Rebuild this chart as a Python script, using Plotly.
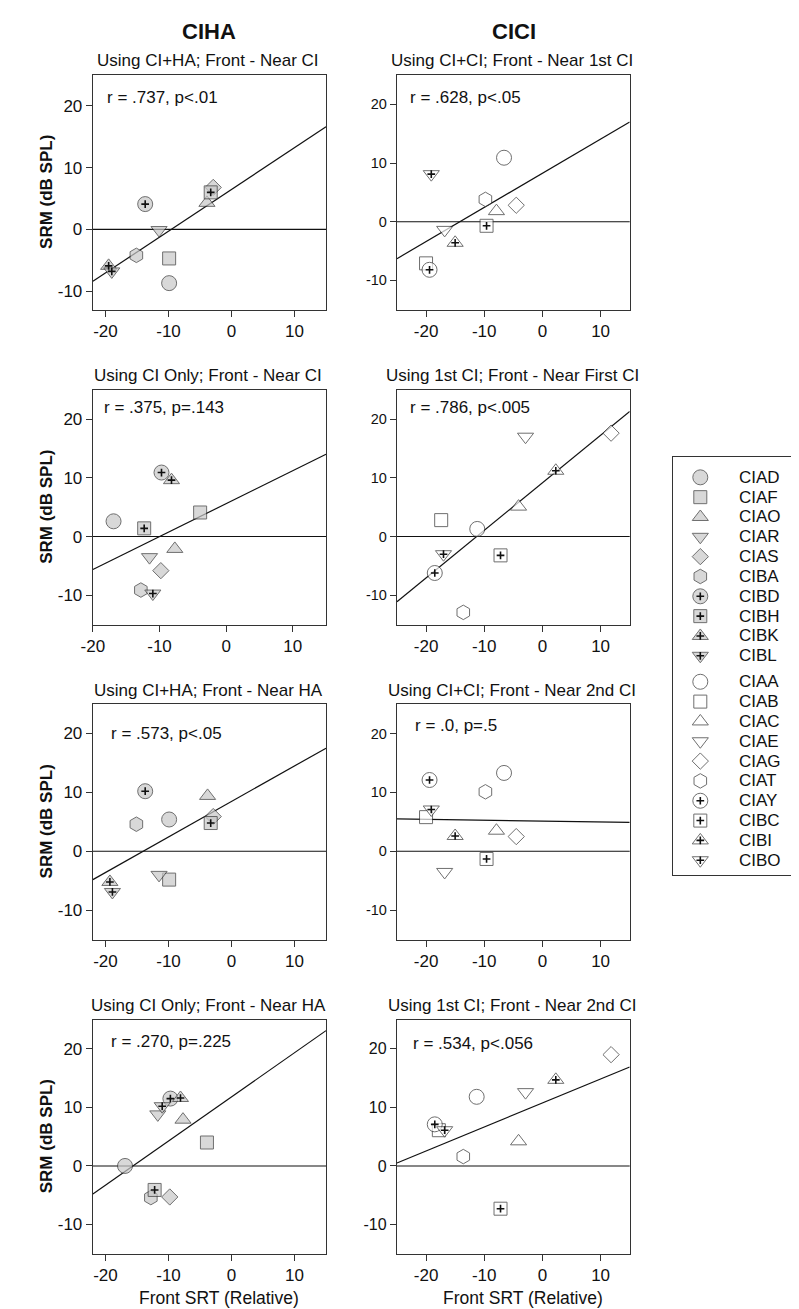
import plotly.graph_objects as go

# ---------------- data ----------------
ciha_subjects = ["CIAD", "CIAF", "CIAO", "CIAR", "CIAS", "CIBA", "CIBD", "CIBH", "CIBK", "CIBL"]
cici_subjects = ["CIAA", "CIAB", "CIAC", "CIAE", "CIAG", "CIAT", "CIAY", "CIBC", "CIBI", "CIBO"]
subject_symbols = ["circle", "square", "triangle-up", "triangle-down", "diamond", "hexagon",
                   "circle", "square", "triangle-up", "triangle-down"]
subject_plus = [0, 0, 0, 0, 0, 0, 1, 1, 1, 1]

panel_titles = [
    "Using CI+HA; Front - Near CI", "Using CI+CI; Front - Near 1st CI",
    "Using CI Only; Front - Near CI", "Using 1st CI; Front - Near First CI",
    "Using CI+HA; Front - Near HA", "Using CI+CI; Front - Near 2nd CI",
    "Using CI Only; Front - Near HA", "Using 1st CI; Front - Near 2nd CI",
]
panel_stats = [
    "r = .737, p<.01", "r = .628, p<.05",
    "r = .375, p=.143", "r = .786, p<.005",
    "r = .573, p<.05", "r = .0, p=.5",
    "r = .270, p=.225", "r = .534, p<.056",
]

p1_x = [-9.9, -9.9, -3.9, -11.5, -2.9, -15.1, -13.7, -3.3, -19.5, -19.0]
p1_y = [-8.7, -4.7, 4.3, -0.1, 6.8, -4.2, 4.1, 6.0, -5.9, -6.8]
p2_x = [-6.6, -20.0, -7.9, -16.8, -4.5, -9.8, -19.4, -9.6, -15.0, -19.1]
p2_y = [10.9, -7.1, 1.8, -1.4, 2.8, 3.8, -8.2, -0.7, -3.6, 8.1]
p3_x = [-16.9, -3.9, -7.7, -11.5, -9.8, -12.8, -9.7, -12.3, -8.2, -11.0]
p3_y = [2.6, 4.1, -2.1, -3.5, -5.8, -9.1, 10.9, 1.4, 9.6, -9.7]
p4_x = [-11.2, -17.4, -4.1, -2.9, 11.8, -13.6, -18.5, -7.2, 2.3, -17.0]
p4_y = [1.3, 2.8, 5.1, 17.0, 17.6, -12.9, -6.2, -3.2, 11.2, -3.0]
p5_x = [-9.9, -9.9, -3.8, -11.5, -2.9, -15.1, -13.7, -3.3, -19.3, -18.9]
p5_y = [5.4, -4.8, 9.4, -4.0, 5.9, 4.6, 10.2, 4.8, -5.2, -6.9]
p6_x = [-6.6, -20.0, -7.9, -16.8, -4.5, -9.8, -19.4, -9.6, -15.0, -19.1]
p6_y = [13.3, 5.8, 3.5, -3.5, 2.5, 10.1, 12.1, -1.3, 2.6, 7.1]
p7_x = [-16.9, -3.9, -7.7, -11.7, -9.8, -12.8, -9.7, -12.2, -8.1, -11.0]
p7_y = [0.0, 4.0, 7.9, 8.8, -5.3, -5.4, 11.5, -4.1, 11.6, 10.2]
p8_x = [-11.3, -17.8, -4.1, -2.9, 11.8, -13.6, -18.5, -7.2, 2.3, -16.8]
p8_y = [11.8, 6.1, 4.2, 12.6, 19.0, 1.6, 7.1, -7.3, 14.7, 6.1]

# regression lines as drawn in the figure (slope, intercept)
fit_slope = [0.676, 0.5825, 0.56, 0.81, 0.603, -0.015, 0.754, 0.41]
fit_intercept = [6.47, 8.26, 5.6, 9.15, 8.46, 5.125, 11.79, 10.75]

x_ranges = [[-22, 15], [-25, 15], [-20, 15], [-25, 15], [-22, 15], [-25, 15], [-22, 15], [-25, 15]]
y_ranges = [[-13, 25], [-15, 25], [-15, 25], [-15, 25], [-15, 25], [-15, 25], [-15, 25], [-15, 25]]

x_tick_vals = [-20, -10, 0, 10]
x_tick_text = ["-20", "-10", "0", "10"]
y_tick_vals = [-10, 0, 10, 20]
y_tick_text = ["-10", "0", "10", "20"]

column_titles = ["CIHA", "CICI"]
y_title = "SRM (dB SPL)"
x_title = "Front SRT (Relative)"

panel_x = [p1_x, p2_x, p3_x, p4_x, p5_x, p6_x, p7_x, p8_x]
panel_y = [p1_y, p2_y, p3_y, p4_y, p5_y, p6_y, p7_y, p8_y]

# ---------------- layout helpers ----------------
W, H = 799, 1309
FONT = "Liberation Sans, Arial, sans-serif"
INK = "#333333"
TXT = "#111111"
GREY = "#c8c8c8"


def xd(px):
    return px / W


def yd(py):
    return 1 - py / H


col_px = [(74, 310.7), (382.7, 619)]
row_px = [(67, 301.7), (381.7, 616.7), (696, 931.7), (1011.5, 1245.8)]

size_map = {"circle": 15, "square": 13, "triangle-up": 14, "triangle-down": 14,
            "diamond": 12.5, "hexagon": 14.5}

fig = go.Figure()
annotations = []
shapes = []
layout_axes = {}

for k in range(8):
    row, col = k // 2, k % 2
    n = k + 1
    xa = "x" if n == 1 else f"x{n}"
    ya = "y" if n == 1 else f"y{n}"
    fill = GREY if col == 0 else "white"
    xs, ys = panel_x[k], panel_y[k]

    # regression line
    lx = x_ranges[k]
    ly = [fit_intercept[k] + fit_slope[k] * v for v in lx]
    fig.add_trace(go.Scatter(x=lx, y=ly, mode="lines", line=dict(color="#111", width=1.2),
                             xaxis=xa, yaxis=ya, showlegend=False, hoverinfo="skip"))
    # markers
    fig.add_trace(go.Scatter(
        x=xs, y=ys, mode="markers", xaxis=xa, yaxis=ya, showlegend=False,
        marker=dict(symbol=subject_symbols, size=[size_map[s] for s in subject_symbols],
                    color=fill, line=dict(color=INK, width=1)),
    ))
    # plus signs for the second set of symbols
    px_ = [x for x, f in zip(xs, subject_plus) if f]
    py_ = [y for y, f in zip(ys, subject_plus) if f]
    fig.add_trace(go.Scatter(
        x=px_, y=py_, mode="markers", xaxis=xa, yaxis=ya, showlegend=False,
        marker=dict(symbol="cross-thin", size=5.5, line=dict(color="#111", width=1.6)),
    ))

    x0, x1 = col_px[col]
    y0, y1 = row_px[row]
    ytick_size = 17 if col == 0 else (16 if row == 3 else 14.5)
    layout_axes["xaxis" if n == 1 else f"xaxis{n}"] = dict(
        domain=[xd(x0), xd(x1)], range=x_ranges[k], anchor=ya,
        tickvals=x_tick_vals, ticktext=x_tick_text,
        ticks="outside", ticklen=6, tickwidth=1, tickcolor=INK,
        showline=True, linecolor=INK, linewidth=1.3, mirror=True,
        showgrid=False, zeroline=False, tickfont=dict(size=17, color=TXT, family=FONT),
    )
    layout_axes["yaxis" if n == 1 else f"yaxis{n}"] = dict(
        domain=[yd(y1), yd(y0)], range=y_ranges[k], anchor=xa,
        tickvals=y_tick_vals, ticktext=y_tick_text,
        ticks="outside", ticklen=6, tickwidth=1, tickcolor=INK,
        showline=True, linecolor=INK, linewidth=1.3, mirror=True,
        showgrid=False, zeroline=False, tickfont=dict(size=ytick_size, color=TXT, family=FONT),
    )
    # zero reference line
    shapes.append(dict(type="line", xref=f"{xa} domain", yref=ya, x0=0, x1=1, y0=0, y1=0,
                       line=dict(color="#111", width=1.1), layer="below"))
    # panel title
    annotations.append(dict(text=panel_titles[k], xref="paper", yref="paper",
                            x=xd((x0 + x1) / 2 - 1), y=yd(y0 - 14), xanchor="center", yanchor="middle",
                            showarrow=False, font=dict(size=17, color=TXT, family=FONT)))
    # stats text
    stat_dx = [12, 11, 9, 11, 16, 16, 16, 14][k]
    stat_dy = [23, 23, 18, 18, 29, 21, 22, 24][k]
    annotations.append(dict(text=panel_stats[k], xref="paper", yref="paper",
                            x=xd(x0 + stat_dx), y=yd(y0 + stat_dy), xanchor="left", yanchor="middle",
                            showarrow=False, font=dict(size=17, color=TXT, family=FONT)))
    # y title on left column
    if col == 0:
        annotations.append(dict(text="<b>" + y_title + "</b>", xref="paper", yref="paper",
                                x=xd(27), y=yd((y0 + y1) / 2), textangle=-90,
                                xanchor="center", yanchor="middle", showarrow=False,
                                font=dict(size=17, color=TXT, family=FONT)))

# column titles
for c, t in enumerate(column_titles):
    cx = [191.7, 501.3][c]
    annotations.append(dict(text="<b>" + t + "</b>", xref="paper", yref="paper",
                            x=xd(cx), y=yd(23.5), xanchor="center", yanchor="middle",
                            showarrow=False, font=dict(size=22, color=TXT, family=FONT)))
# x titles
for cx in [202.2, 510.3]:
    annotations.append(dict(text=x_title, xref="paper", yref="paper",
                            x=xd(cx), y=yd(1290), xanchor="center", yanchor="middle",
                            showarrow=False, font=dict(size=17.5, color=TXT, family=FONT)))

# ---------------- legend (own axis) ----------------
legend_names = ciha_subjects + cici_subjects
legend_pos = [i + (0.31 if i >= len(ciha_subjects) else 0) for i in range(len(legend_names))]
legend_symbols = subject_symbols + subject_symbols
legend_fill = [GREY] * len(ciha_subjects) + ["white"] * len(cici_subjects)
legend_plus = subject_plus + subject_plus

fig.add_trace(go.Scatter(
    x=[0.225] * len(legend_names), y=legend_pos, mode="markers", xaxis="x9", yaxis="y9",
    showlegend=False,
    marker=dict(symbol=legend_symbols, size=[size_map[s] for s in legend_symbols],
                color=legend_fill, line=dict(color=INK, width=1)),
))
fig.add_trace(go.Scatter(
    x=[0.225] * sum(legend_plus), y=[p for p, f in zip(legend_pos, legend_plus) if f],
    mode="markers", xaxis="x9", yaxis="y9", showlegend=False,
    marker=dict(symbol="cross-thin", size=5.5, line=dict(color="#111", width=1.6)),
))
for name, pos in zip(legend_names, legend_pos):
    annotations.append(dict(text=name, xref="x9", yref="y9", x=0.53, y=pos,
                            xanchor="left", yanchor="middle", showarrow=False,
                            font=dict(size=17, color=TXT, family=FONT)))

layout_axes["xaxis9"] = dict(domain=[xd(663.3), xd(785)], range=[0, 1], anchor="y9",
                             showline=True, linecolor=INK, linewidth=1.3, mirror=True,
                             showgrid=False, zeroline=False, showticklabels=False, ticks="")
layout_axes["yaxis9"] = dict(domain=[yd(867.3), yd(449.3)], range=[20.07, -1.01], anchor="x9",
                             showline=True, linecolor=INK, linewidth=1.3, mirror=True,
                             showgrid=False, zeroline=False, showticklabels=False, ticks="")

fig.update_layout(
    width=W, height=H, autosize=False,
    margin=dict(l=0, r=0, t=0, b=0),
    paper_bgcolor="white", plot_bgcolor="white",
    font=dict(family=FONT, color=TXT),
    annotations=annotations, shapes=shapes,
    **layout_axes,
)

fig.write_html("out.html")
